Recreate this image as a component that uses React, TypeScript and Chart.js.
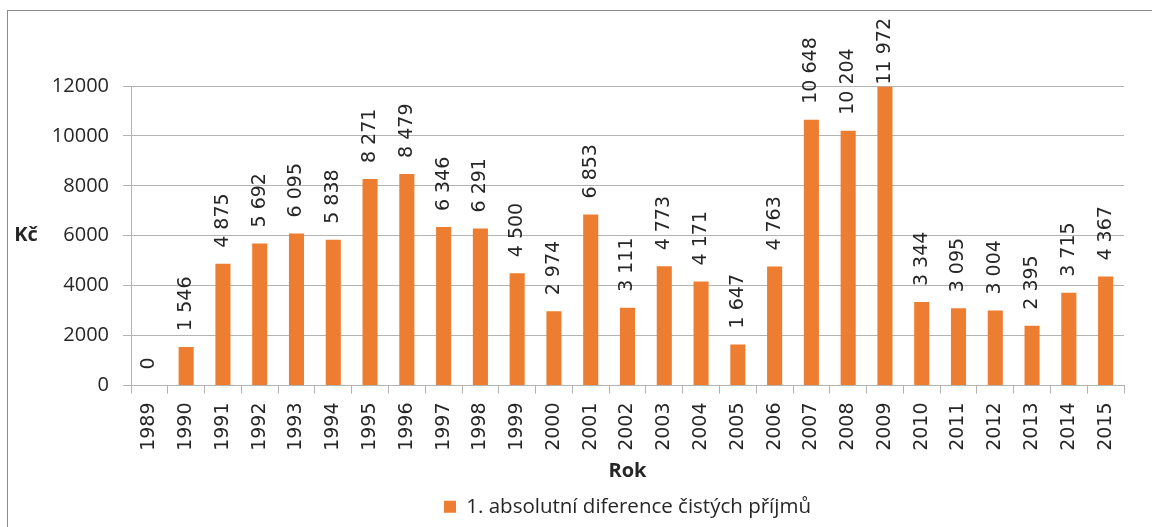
import React, { useEffect, useRef } from "react";
import { Chart, registerables } from "chart.js";

Chart.register(...registerables);

const years = [
  "1989", "1990", "1991", "1992", "1993", "1994", "1995", "1996", "1997",
  "1998", "1999", "2000", "2001", "2002", "2003", "2004", "2005", "2006",
  "2007", "2008", "2009", "2010", "2011", "2012", "2013", "2014", "2015",
];

const differences = [
  0, 1546, 4875, 5692, 6095, 5838, 8271, 8479, 6346, 6291, 4500, 2974, 6853,
  3111, 4773, 4171, 1647, 4763, 10648, 10204, 11972, 3344, 3095, 3004, 2395,
  3715, 4367,
];

const seriesLabel = "1. absolutní diference čistých příjmů";
const yAxisTitle = "Kč";
const xAxisTitle = "Rok";
const yMin = 0;
const yMax = 12000;
const yStep = 2000;

const BAR_COLOR = "#ED7D31";
const GRID = "#b3b3b3";
const TEXT = "#262626";

const fmt = (v: number) => String(v).replace(/\B(?=(\d{3})+(?!\d))/g, " ");

const framePlugin = {
  id: "frame",
  beforeDraw(chart: any) {
    const ctx = chart.ctx;
    ctx.save();
    ctx.strokeStyle = "#8c8c8c";
    ctx.lineWidth = 1;
    ctx.strokeRect(7.5, 10.5, 1300, 700);
    ctx.restore();
  },
};

const titlesPlugin = {
  id: "axisTitles",
  afterDraw(chart: any) {
    const ctx = chart.ctx;
    const area = chart.chartArea;
    ctx.save();
    ctx.fillStyle = TEXT;
    ctx.font = 'bold 20px "Open Sans"';
    ctx.textAlign = "center";
    ctx.textBaseline = "middle";
    ctx.fillText(yAxisTitle, 26, (area.top + area.bottom) / 2);
    ctx.fillText(xAxisTitle, (area.left + area.right) / 2, 471);
    ctx.restore();
  },
};

const dataLabelPlugin = {
  id: "dataLabels",
  afterDatasetsDraw(chart: any) {
    const ctx = chart.ctx;
    const meta = chart.getDatasetMeta(0);
    const data = chart.data.datasets[0].data as number[];
    ctx.save();
    ctx.font = '19px "DejaVu Sans"';
    ctx.fillStyle = TEXT;
    ctx.textAlign = "left";
    ctx.textBaseline = "middle";
    meta.data.forEach((bar: any, i: number) => {
      const txt = fmt(data[i]);
      const w = ctx.measureText(txt).width;
      let base = bar.y - 16;
      if (base - w < 18) base = 18 + w;
      ctx.save();
      ctx.translate(bar.x, base);
      ctx.rotate(-Math.PI / 2);
      ctx.fillText(txt, 0, 0);
      ctx.restore();
    });
    ctx.restore();
  },
};

export default function App() {
  const canvasRef = useRef<HTMLCanvasElement | null>(null);

  useEffect(() => {
    if (!canvasRef.current) return;
    const chart = new Chart(canvasRef.current, {
      type: "bar",
      data: {
        labels: years,
        datasets: [
          {
            label: seriesLabel,
            data: differences,
            backgroundColor: BAR_COLOR,
            borderWidth: 0,
            barPercentage: 0.41,
            categoryPercentage: 1,
          },
        ],
      },
      options: {
        responsive: false,
        animation: false,
        layout: { padding: { top: 86, right: 28, left: 0, bottom: 0 } },
        plugins: {
          tooltip: { enabled: false },
          legend: {
            display: true,
            position: "bottom",
            fullSize: false,
            labels: {
              boxWidth: 12,
              boxHeight: 12,
              padding: 10,
              color: TEXT,
              font: { family: "Open Sans", size: 20.5 },
            },
          },
        },
        scales: {
          x: {
            grid: {
              display: true,
              drawOnChartArea: false,
              drawTicks: true,
              tickLength: 8,
              color: GRID,
              offset: true,
            },
            border: { display: true, color: GRID },
            ticks: {
              autoSkip: false,
              minRotation: 90,
              maxRotation: 90,
              padding: 9,
              color: TEXT,
              font: { family: "DejaVu Sans", size: 19 },
            },
            afterFit(scale: any) {
              scale.height = 101;
            },
          },
          y: {
            min: yMin,
            max: yMax,
            grid: {
              color: GRID,
              drawTicks: true,
              tickLength: 8,
            },
            border: { display: true, color: GRID },
            ticks: {
              stepSize: yStep,
              padding: 14,
              color: TEXT,
              font: { family: "Open Sans", size: 20 },
              callback: (value: any) => String(value),
            },
            afterFit(scale: any) {
              scale.width = 131;
            },
          },
        },
      },
      plugins: [framePlugin, dataLabelPlugin, titlesPlugin],
    });
    return () => chart.destroy();
  }, []);

  return (
    <div style={{ position: "fixed", left: 0, top: 0, width: 1152, height: 527, background: "#fff" }}>
      <canvas ref={canvasRef} width={1152} height={527} />
    </div>
  );
}
